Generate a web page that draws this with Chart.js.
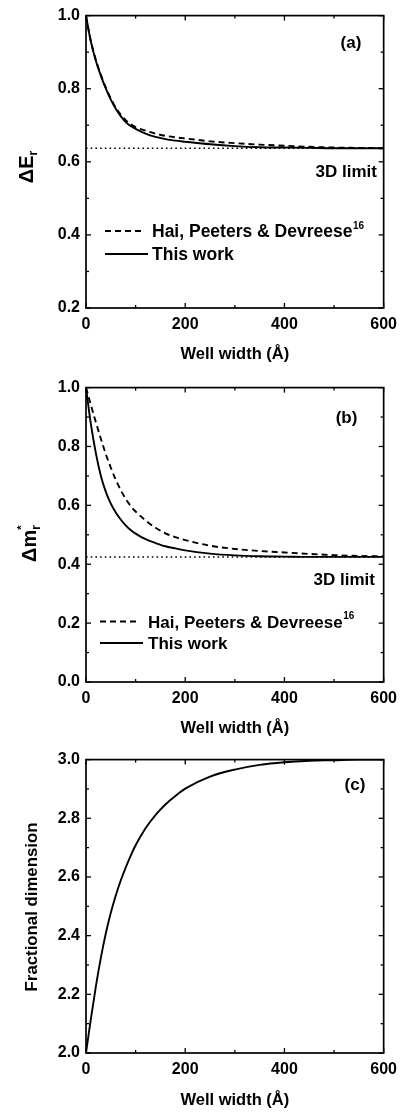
<!DOCTYPE html>
<html><head><meta charset="utf-8">
<script src="https://cdn.jsdelivr.net/npm/chart.js@4.4.0/dist/chart.umd.min.js"></script>
<style>
html,body{margin:0;padding:0;background:#fff;width:404px;height:1115px;overflow:hidden;}
canvas{position:absolute;left:0;}
</style></head><body>
<canvas id="ca" width="404" height="372" style="top:0px"></canvas>
<canvas id="cb" width="404" height="372" style="top:372px"></canvas>
<canvas id="cc" width="404" height="371" style="top:744px"></canvas>
<script>
// ---------------- data ----------------
const wellWidth = [0,5,10,20,30,40,50,60,70,80,90,100,120,140,160,180,200,250,300,350,400,450,500,550,600];
const energyHai      = [1.0,0.962,0.929,0.878,0.838,0.803,0.773,0.748,0.729,0.714,0.703,0.695,0.685,0.677,0.671,0.667,0.664,0.656,0.651,0.647,0.644,0.641,0.639,0.638,0.637];
const energyThisWork = [1.0,0.962,0.928,0.876,0.835,0.800,0.770,0.745,0.725,0.709,0.698,0.690,0.677,0.668,0.662,0.658,0.655,0.648,0.643,0.640,0.639,0.638,0.637,0.637,0.637];
const energy3DLimit = 0.637;
const massHai      = [1.0,0.970,0.940,0.882,0.826,0.774,0.728,0.687,0.652,0.622,0.598,0.579,0.549,0.524,0.505,0.492,0.482,0.463,0.452,0.445,0.440,0.435,0.431,0.428,0.427];
const massThisWork = [1.0,0.935,0.874,0.776,0.700,0.646,0.606,0.576,0.552,0.532,0.516,0.504,0.485,0.472,0.461,0.454,0.447,0.436,0.430,0.427,0.426,0.425,0.425,0.425,0.425];
const mass3DLimit = 0.425;
const fractionalDimension = [2.0,2.060,2.118,2.228,2.325,2.408,2.478,2.537,2.588,2.632,2.672,2.708,2.766,2.811,2.847,2.876,2.901,2.942,2.966,2.982,2.991,2.996,2.998,3.0,3.0];
const limitRange = [0,600];
const xTickValues = [0,200,400,600];
const energyTicks = [0.2,0.4,0.6,0.8,1.0];
const massTicks = [0.0,0.2,0.4,0.6,0.8,1.0];
const dimTicks = [2.0,2.2,2.4,2.6,2.8,3.0];
const seriesLabels = ["Hai, Peeters & Devreese", "This work"];
const refNumber = "16";
const xTitle = "Well width (\u00C5)";
const limitLabel = "3D limit";

const FONT = '"Liberation Sans", Arial, Helvetica, sans-serif';

function pts(xs, ys){ return xs.map((x,i)=>({x:x, y:ys[i]})); }
function flat(v){ return limitRange.map(x=>({x:x, y:v})); }

const decoPlugin = {
  id: 'deco',
  afterDraw(chart, args, o) {
    const ctx = chart.ctx, a = chart.chartArea;
    const xs = chart.scales.x, ys = chart.scales.y;
    ctx.save();
    ctx.strokeStyle = '#000'; ctx.fillStyle = '#000';
    const line = (x1,y1,x2,y2)=>{ctx.beginPath();ctx.moveTo(x1,y1);ctx.lineTo(x2,y2);ctx.stroke();};
    ctx.lineWidth = 1.3;
    const nx = Math.round((xs.max-xs.min)/100);
    for (let k=0;k<=nx;k++){
      const px = xs.getPixelForValue(xs.min + k*100);
      const L = (k%2===0)?5:3;
      line(px,a.bottom,px,a.bottom-L); line(px,a.top,px,a.top+L);
    }
    const ny = Math.round((ys.max-ys.min)/0.1);
    for (let k=0;k<=ny;k++){
      const py = ys.getPixelForValue(ys.min + k*0.1);
      const L = (k%2===0)?5:3;
      line(a.left,py,a.left+L,py); line(a.right,py,a.right-L,py);
    }
    ctx.lineWidth = 1.7;
    ctx.strokeRect(a.left, a.top, a.right-a.left, a.bottom-a.top);

    ctx.font = 'bold 17px ' + FONT;
    ctx.textBaseline = 'middle'; ctx.textAlign = 'center';
    ctx.fillText(o.panel.text, o.panel.x, o.panel.y);

    if (o.limit) {
      ctx.textAlign = 'right';
      ctx.fillText(limitLabel, o.limit.x, o.limit.y);
    }

    if (o.legend) {
      const L = o.legend;
      const items = chart.data.datasets.filter(d=>d.inLegend);
      items.forEach((d,i)=>{
        const y = L.rows[i];
        ctx.save();
        ctx.lineWidth = d.borderWidth;
        ctx.setLineDash(d.borderDash || []);
        line(L.x1, y, L.x2[i], y);
        ctx.restore();
        ctx.font = 'bold ' + L.size + 'px ' + FONT;
        ctx.textAlign = 'left'; ctx.textBaseline = 'alphabetic';
        const base = y + 0.358*L.size;
        ctx.fillText(d.label, L.tx, base);
        if (d.ref) {
          const w = ctx.measureText(d.label).width;
          ctx.font = 'bold 10px ' + FONT;
          ctx.fillText(d.ref, L.tx + w + 0.5, base - 8.5);
        }
      });
    }

    const T = o.ytitle;
    ctx.save();
    ctx.translate(T.bx, T.cy);
    ctx.rotate(-Math.PI/2);
    ctx.textAlign = 'left'; ctx.textBaseline = 'alphabetic';
    let total = 0;
    T.parts.forEach(p=>{ ctx.font = 'bold ' + p.size + 'px ' + FONT; p.w = ctx.measureText(p.text).width; if(!p.stack) total += p.w; });
    let x = -total/2, lastX = x;
    T.parts.forEach(p=>{
      ctx.font = 'bold ' + p.size + 'px ' + FONT;
      if (p.stack) { ctx.fillText(p.text, lastX, p.dy||0); }
      else { ctx.fillText(p.text, x, p.dy||0); x += p.w; lastX = x; }
    });
    ctx.restore();
    ctx.restore();
  }
};

function makeChart(id, datasets, yMin, yMax, yTicks, cfg) {
  return new Chart(document.getElementById(id), {
    type: 'line',
    data: { datasets: datasets },
    options: {
      responsive: false, animation: false,
      layout: { padding: { top: cfg.top, right: 20, left: 0, bottom: 0 } },
      elements: { point: { radius: 0 }, line: { cubicInterpolationMode: 'monotone', borderCapStyle: 'butt' } },
      scales: {
        x: {
          type: 'linear', min: 0, max: 600,
          afterBuildTicks: s => { s.ticks = xTickValues.map(v=>({value:v})); },
          afterFit: s => { s.height = cfg.xh; },
          grid: { display: false, drawTicks: false },
          border: { display: false },
          ticks: { color: '#000', padding: 7, maxRotation: 0, font: { family: FONT, size: 16, weight: 'bold' } },
          title: { display: true, text: xTitle, color: '#000', padding: { top: 0, bottom: cfg.titlePad },
                   font: { family: FONT, size: 16.5, weight: 'bold' } }
        },
        y: {
          type: 'linear', min: yMin, max: yMax,
          afterBuildTicks: s => { s.ticks = yTicks.map(v=>({value:v})); },
          afterFit: s => { s.width = 86; },
          grid: { display: false, drawTicks: false },
          border: { display: false },
          ticks: { color: '#000', padding: 6, callback: v => Number(v).toFixed(1),
                   font: { family: FONT, size: 16, weight: 'bold' } }
        }
      },
      plugins: { legend: { display: false }, tooltip: { enabled: false }, deco: cfg.deco }
    },
    plugins: [decoPlugin]
  });
}

const dashStyle = { borderColor: '#000', borderWidth: 1.9, borderDash: [6,4], fill: false };
const solidStyle = { borderColor: '#000', borderWidth: 1.9, fill: false };
const dotStyle = { borderColor: '#000', borderWidth: 1.5, borderDash: [1.6,3.1], fill: false, cubicInterpolationMode: 'default' };

makeChart('ca', [
  Object.assign({ label: seriesLabels[0], ref: refNumber, inLegend: true, data: pts(wellWidth, energyHai) }, dashStyle),
  Object.assign({ label: seriesLabels[1], inLegend: true, data: pts(wellWidth, energyThisWork) }, solidStyle),
  Object.assign({ label: limitLabel, data: flat(energy3DLimit) }, dotStyle)
], 0.2, 1.0, energyTicks, {
  top: 11, xh: 64, titlePad: 8,
  deco: {
    panel: { text: '(a)', x: 351, y: 43 },
    limit: { x: 377, y: 172 },
    legend: { rows: [231, 254], x1: 105, x2: [143, 148], tx: 152, size: 17.5 },
    ytitle: { bx: 33, cy: 167, parts: [ { text: '\u0394E', size: 20 }, { text: 'r', size: 12, dy: 4 } ] }
  }
});

makeChart('cb', [
  Object.assign({ label: seriesLabels[0], ref: refNumber, inLegend: true, data: pts(wellWidth, massHai) }, dashStyle),
  Object.assign({ label: seriesLabels[1], inLegend: true, data: pts(wellWidth, massThisWork) }, solidStyle),
  Object.assign({ label: limitLabel, data: flat(mass3DLimit) }, dotStyle)
], 0.0, 1.0, massTicks, {
  top: 11, xh: 62, titlePad: 6,
  deco: {
    panel: { text: '(b)', x: 346.5, y: 46 },
    limit: { x: 375, y: 208 },
    legend: { rows: [249.5, 271], x1: 100, x2: [138, 143], tx: 148, size: 17 },
    ytitle: { bx: 36, cy: 171.5, parts: [ { text: '\u0394m', size: 20 }, { text: '*', size: 11, dy: -11, stack: true }, { text: 'r', size: 12, dy: 4 } ] }
  }
});

makeChart('cc', [
  Object.assign({ label: 'Fractional dimension', data: pts(wellWidth, fractionalDimension) }, solidStyle)
], 2.0, 3.0, dimTicks, {
  top: 12, xh: 62, titlePad: 5,
  deco: {
    panel: { text: '(c)', x: 355, y: 41 },
    ytitle: { bx: 37, cy: 163, parts: [ { text: 'Fractional dimension', size: 16.8 } ] }
  }
});
</script>
</body></html>
